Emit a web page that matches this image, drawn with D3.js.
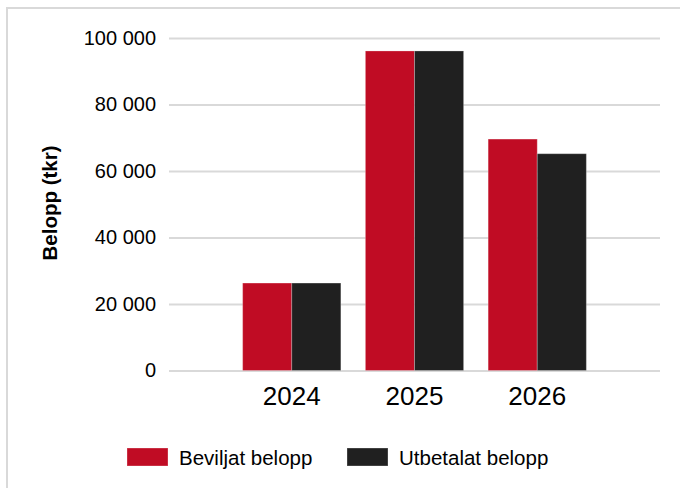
<!DOCTYPE html>
<html>
<head>
<meta charset="utf-8">
<script src="https://cdn.jsdelivr.net/npm/d3@7"></script>
<style>
  body { margin: 0; background: #fff; }
  svg { display: block; font-family: "Liberation Sans", Arial, sans-serif; }
</style>
</head>
<body>
<div class="content"></div>
<script>
// data
const years = ["2024", "2025", "2026"];
const series = ["Beviljat belopp", "Utbetalat belopp"];
const beviljat = [26300, 96100, 69600];
const utbetalat = [26300, 96100, 65200];
const yTicks = [0, 20000, 40000, 60000, 80000, 100000];
const colors = ["#c00c24", "#202020"];

const width = 680, height = 488;
const margin = { top: 38, right: 19, bottom: 117.5, left: 169 };

const svg = d3.select('.content')
    .append('svg')
    .attr('width', width)
    .attr('height', height);

// outer frame (runs off right/bottom edge like the original)
svg.append("rect")
    .attr("x", 7).attr("y", 8)
    .attr("width", 700).attr("height", 500)
    .attr("fill", "none")
    .attr("stroke", "#d9d9d9")
    .attr("stroke-width", 2);

const data = years.map((y, i) => ({ year: y, values: [beviljat[i], utbetalat[i]] }));

let xScale = d3.scaleBand()
    .domain(years)
    .range([margin.left, width - margin.right - 1])
    .paddingInner(0.2)
    .paddingOuter(0.6);

let xSub = d3.scaleBand()
    .domain(d3.range(series.length))
    .range([0, xScale.bandwidth()]);

let yScale = d3.scaleLinear()
    .domain([0, 100000])
    .range([height - margin.bottom, margin.top]);

const fmt = d => d3.format(",")(d).replace(/,/g, " ");

// gridlines + y labels
let yAxis = d3.axisLeft(yScale)
    .tickValues(yTicks)
    .tickFormat(fmt)
    .tickSize(-(width - margin.right - 1 - margin.left))
    .tickPadding(13);

svg.append("g")
    .attr("class", "yAxis")
    .attr("transform", `translate(${margin.left}, 0)`)
    .call(yAxis)
    .call(g => g.select('.domain').remove())
    .call(g => g.selectAll('line').attr("stroke", "#d9d9d9").attr("stroke-width", 2))
    .call(g => g.selectAll('text')
        .attr("font-size", 20)
        .attr("fill", "#000")
        .attr("font-family", "Liberation Sans, Arial, sans-serif"));

// bars
let groups = svg.selectAll(".yearGroup")
    .data(data)
    .enter().append("g")
    .attr("class", "yearGroup")
    .attr("transform", d => `translate(${xScale(d.year)},0)`);

groups.selectAll("rect")
    .data(d => d.values.map((v, i) => ({ v, i })))
    .enter().append("rect")
    .attr("x", d => xSub(d.i))
    .attr("y", d => yScale(d.v))
    .attr("width", xSub.bandwidth())
    .attr("height", d => yScale(0) - yScale(d.v))
    .attr("fill", d => colors[d.i])
    .attr("stroke", "#fff")
    .attr("stroke-opacity", 0.25)
    .attr("stroke-width", 1);

// x labels
let xAxis = d3.axisBottom(xScale).tickSize(0).tickPadding(16);
svg.append("g")
    .attr("class", "xAxis")
    .attr("transform", `translate(0, ${yScale(0)})`)
    .call(xAxis)
    .call(g => g.select('.domain').remove())
    .call(g => g.selectAll('text')
        .attr("font-size", 26)
        .attr("fill", "#000")
        .attr("font-family", "Liberation Sans, Arial, sans-serif"));

// y title
svg.append("text")
    .attr("transform", `translate(57, 203) rotate(-90)`)
    .attr("text-anchor", "middle")
    .attr("font-size", 20.5)
    .attr("font-weight", "bold")
    .attr("fill", "#000")
    .text("Belopp (tkr)");

// legend
const legendX = [127, 347];
let legend = svg.selectAll(".legendItem")
    .data(series)
    .enter().append("g")
    .attr("class", "legendItem")
    .attr("transform", (d, i) => `translate(${legendX[i]}, 448)`);

legend.append("rect")
    .attr("width", 41)
    .attr("height", 18)
    .attr("fill", (d, i) => colors[i])
    .attr("stroke", "#fff")
    .attr("stroke-opacity", 0.3);

legend.append("text")
    .attr("x", 52)
    .attr("y", 17)
    .attr("font-size", 20.5)
    .attr("fill", "#000")
    .text(d => d);
</script>
</body>
</html>
